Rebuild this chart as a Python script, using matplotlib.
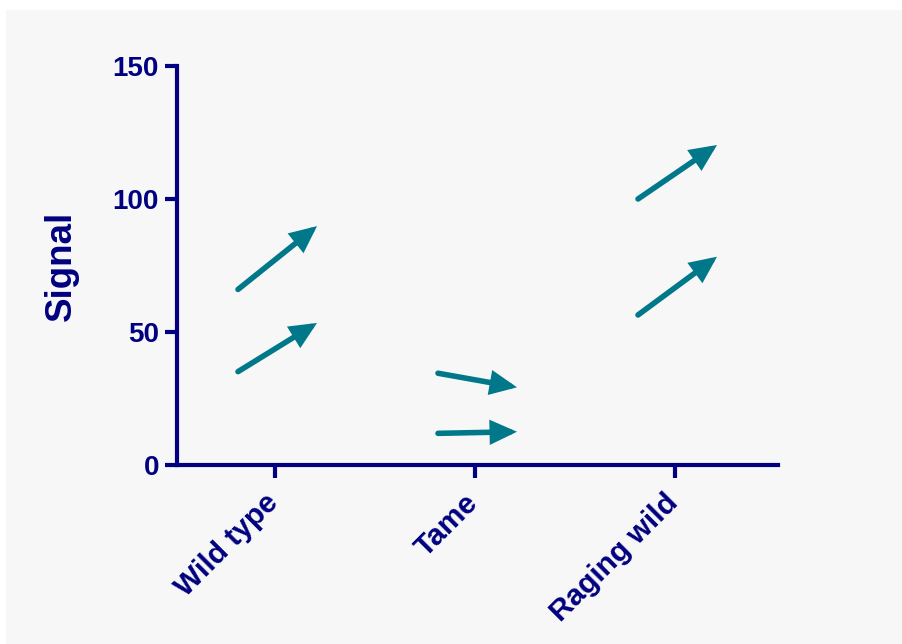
import matplotlib
matplotlib.use("Agg")
import matplotlib.pyplot as plt
from matplotlib.patches import FancyArrowPatch, Rectangle
from matplotlib.transforms import ScaledTranslation

categories = ["Wild type", "Tame", "Raging wild"]
before_1 = [66.0, 34.5, 100.0]
after_1 = [89.8, 29.2, 120.3]
before_2 = [35.1, 11.9, 56.4]
after_2 = [53.4, 12.5, 78.3]
y_ticks = [0, 50, 100, 150]
y_label = "Signal"

NAVY = "#000080"
TEAL = "#00788a"

plt.rcParams["font.family"] = ["Liberation Sans", "DejaVu Sans"]
plt.rcParams["font.weight"] = "bold"

fig = plt.figure(figsize=(9.03, 6.44), dpi=100)
fig.patches.append(Rectangle((6 / 903, 0), 1, 1 - 10 / 644, transform=fig.transFigure,
                             facecolor="#f7f7f7", edgecolor="none", zorder=-10))
ax = fig.add_axes([177 / 903, 1 - 465 / 644, (778 - 177) / 903, (465 - 66) / 644])
ax.set_facecolor("none")

x0, x1 = -0.185, 0.21
for b_list, a_list in [(before_1, after_1), (before_2, after_2)]:
    for i, (b, a) in enumerate(zip(b_list, a_list)):
        arr = FancyArrowPatch((i + x0, b), (i + x1, a),
                              arrowstyle="-|>,head_length=0.65,head_width=0.3",
                              mutation_scale=20, color=TEAL, linewidth=4.0,
                              shrinkA=0, shrinkB=0, capstyle="round", joinstyle="miter")
        ax.add_patch(arr)

ax.set_xlim(-0.49, 2.515)
ax.set_ylim(0, 150)
ax.set_xticks(range(len(categories)))
ax.set_xticklabels(categories, rotation=45, ha="right", rotation_mode="anchor",
                   fontsize=21.5, color=NAVY, fontweight="bold")
ax.set_yticks(y_ticks)
ax.set_yticklabels([str(t) for t in y_ticks], fontsize=20, color=NAVY, fontweight="bold")
ax.set_ylabel(y_label, fontsize=26.5, color=NAVY, fontweight="bold", labelpad=24)

for s in ["top", "right"]:
    ax.spines[s].set_visible(False)
for s in ["left", "bottom"]:
    ax.spines[s].set_color(NAVY)
    ax.spines[s].set_linewidth(3)
ax.tick_params(axis="both", colors=NAVY, width=3, length=9, direction="out")
ax.tick_params(axis="y", pad=4)
ax.tick_params(axis="x", pad=8)

offset = ScaledTranslation(-11 / 100, 0, fig.dpi_scale_trans)
for lbl in ax.get_xticklabels():
    lbl.set_transform(lbl.get_transform() + offset)

fig.savefig("out.png", dpi=100)
